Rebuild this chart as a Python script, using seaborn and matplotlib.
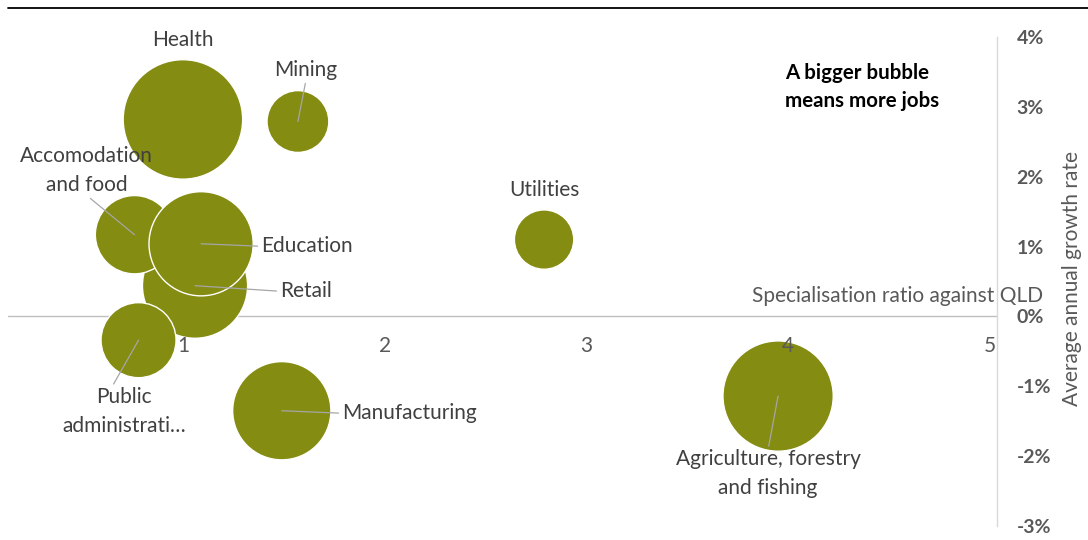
import matplotlib
matplotlib.use("Agg")
import matplotlib.pyplot as plt
from matplotlib.lines import Line2D
from matplotlib.ticker import PercentFormatter, FixedLocator
import pandas as pd
import seaborn as sns

# Industry data: specialisation ratio, average annual growth, jobs (bubble area)
industries = ["Retail", "Accomodation\nand food", "Education", "Public\nadministrati…",
              "Health", "Mining", "Utilities", "Manufacturing",
              "Agriculture, forestry\nand fishing"]
spec_ratio = [1.06, 0.76, 1.09, 0.78, 1.00, 1.57, 2.79, 1.49, 3.95]
growth = [0.0044, 0.0117, 0.0104, -0.0034, 0.0282, 0.0279, 0.0110, -0.0135, -0.0114]
jobs = [5500, 3050, 5400, 2800, 7100, 1900, 1750, 4800, 6050]
x_ticks = [1, 2, 3, 4, 5]
y_ticks = [-0.03, -0.02, -0.01, 0.0, 0.01, 0.02, 0.03, 0.04]

df = pd.DataFrame({"industry": industries, "spec": spec_ratio,
                   "growth": growth, "jobs": jobs})

OLIVE = "#848C11"
LABEL = "#404040"
AXIS_TXT = "#595959"

sns.set_theme(style="white")
plt.rcParams["font.family"] = ["Lato", "DejaVu Sans"]
plt.rcParams["axes.unicode_minus"] = False

fig = plt.figure(figsize=(10.88, 5.40), dpi=100)
ax = fig.add_axes([8 / 1088, 1 - 526 / 540, (997 - 8) / 1088, (526 - 37) / 540])

max_area = 86.0 ** 2  # largest bubble, in points^2
sns.scatterplot(data=df, x="spec", y="growth", size="jobs",
                sizes=(0, max_area), size_norm=(0, max(jobs)),
                color=OLIVE, edgecolor="white", linewidth=1.0,
                alpha=1, legend=False, ax=ax, zorder=3)

ax.set_xlim(0.133, 5.035)
ax.set_ylim(-0.03, 0.04)

# Axes: horizontal line through zero growth, y axis on the right
for side in ["top", "left", "bottom", "right"]:
    ax.spines[side].set_visible(False)
ax.axhline(0, color="#BFBFBF", lw=1.0, zorder=1)
ax.spines["right"].set_visible(True)
ax.spines["right"].set_color("#D9D9D9")
ax.spines["right"].set_linewidth(1.0)

# x tick labels sit just below the zero line, drawn over the bubbles
ax.xaxis.set_zorder(4)
ax.xaxis.set_major_locator(FixedLocator(x_ticks))
ax.set_xticklabels([str(t) for t in x_ticks])
ax.tick_params(axis="x", length=0, pad=0, labelsize=15, colors=AXIS_TXT)
for lbl in ax.get_xticklabels():
    lbl.set_transform(ax.transData + matplotlib.transforms.ScaledTranslation(0, -30 / 100, fig.dpi_scale_trans))
    lbl.set_y(0)
    lbl.set_va("center")

ax.yaxis.tick_right()
ax.yaxis.set_major_locator(FixedLocator(y_ticks))
ax.yaxis.set_major_formatter(PercentFormatter(1.0, decimals=0))
ax.tick_params(axis="y", length=0, pad=14, labelsize=14, colors=AXIS_TXT)
for lbl in ax.get_yticklabels():
    lbl.set_fontweight("bold")

ax.set_xlabel("")
ax.set_ylabel("")
fig.text(1072 / 1088, 1 - 279 / 540, "Average annual growth rate", rotation=90,
         ha="center", va="center", fontsize=15, color=AXIS_TXT)
fig.text(1043 / 1088, 1 - 296 / 540, "Specialisation ratio against QLD",
         ha="right", va="center", fontsize=15, color=AXIS_TXT)

# Data labels (offset in points from bubble centre) with leader lines
label_style = {
    "Retail": dict(off=(61, -4), ha="left", rel=(0, 0.5), leader=True),
    "Accomodation\nand food": dict(off=(-34.6, 46), ha="center", rel=(0.5, 0), leader=True),
    "Education": dict(off=(43, -1.8), ha="left", rel=(0, 0.5), leader=True),
    "Public\nadministrati…": dict(off=(-10.4, -51.5), ha="center", rel=(0.4, 1), leader=True),
    "Health": dict(off=(0, 57), ha="center", rel=(0.5, 0), leader=False),
    "Mining": dict(off=(5.8, 37), ha="center", rel=(0.5, 0), leader=True),
    "Utilities": dict(off=(0, 36), ha="center", rel=(0.5, 0), leader=False),
    "Manufacturing": dict(off=(43.2, -1.8), ha="left", rel=(0, 0.5), leader=True),
    "Agriculture, forestry\nand fishing": dict(off=(-7.2, -56), ha="center", rel=(0.5, 1), leader=True),
}
for name, xv, yv in zip(industries, spec_ratio, growth):
    st = label_style[name]
    arrow = None
    if st["leader"]:
        arrow = dict(arrowstyle="-", color="#A6A6A6", lw=0.9,
                     shrinkA=0, shrinkB=0, relpos=st["rel"])
    ax.annotate(name, xy=(xv, yv), xytext=st["off"], textcoords="offset points",
                ha=st["ha"], va="center", multialignment="center",
                fontsize=15, color=LABEL, linespacing=1.55,
                arrowprops=arrow, zorder=5)

fig.text(785 / 1088, 1 - 87 / 540, "A bigger bubble\nmeans more jobs",
         ha="left", va="center", fontsize=14.8, fontweight="bold",
         color="black", linespacing=1.55)

# Rule across the top of the chart
fig.add_artist(Line2D([8 / 1088, 1.0], [1 - 8 / 540, 1 - 8 / 540],
                      color="black", lw=1.3))

fig.savefig("out.png", dpi=100)
